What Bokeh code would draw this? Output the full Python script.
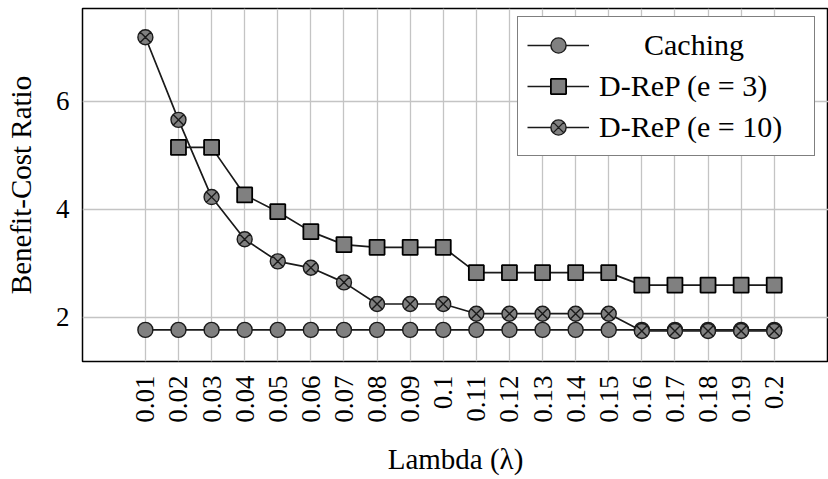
import math
from bokeh.plotting import figure
from bokeh.models import Range1d, FixedTicker, Legend, LegendItem
from bokeh.embed import file_html
from bokeh.resources import INLINE

# ---- data ----
lambda_labels = ["0.01", "0.02", "0.03", "0.04", "0.05", "0.06", "0.07", "0.08", "0.09", "0.1",
                 "0.11", "0.12", "0.13", "0.14", "0.15", "0.16", "0.17", "0.18", "0.19", "0.2"]
caching = [1.77, 1.77, 1.77, 1.77, 1.77, 1.77, 1.77, 1.77, 1.77, 1.77,
           1.77, 1.77, 1.77, 1.77, 1.77, 1.77, 1.77, 1.77, 1.77, 1.77]
drep3_labels = lambda_labels[1:]
drep3 = [5.15, 5.15, 4.27, 3.96, 3.59, 3.35, 3.30, 3.30, 3.30,
         2.83, 2.83, 2.83, 2.83, 2.83, 2.60, 2.60, 2.60, 2.60, 2.60]
drep10 = [7.19, 5.66, 4.23, 3.45, 3.04, 2.92, 2.65, 2.25, 2.25, 2.25,
          2.07, 2.07, 2.07, 2.07, 2.07, 1.75, 1.75, 1.75, 1.75, 1.75]
y_ticks = [2, 4, 6]
series_names = ["Caching", "D-ReP (e = 3)", "D-ReP (e = 10)"]

x_all = [lambda_labels.index(l) for l in lambda_labels]
x_d3 = [lambda_labels.index(l) for l in drep3_labels]

FONT = "Liberation Serif"
FILL = "#808080"
LINE = "#1a1a1a"

p = figure(width=828, height=479, output_backend="svg", toolbar_location=None,
           x_range=Range1d(-1.9, 20.64), y_range=Range1d(1.185, 7.722),
           min_border_left=82, min_border_right=0, min_border_top=8, min_border_bottom=118)

p.outline_line_color = "black"
p.outline_line_width = 1.5
p.background_fill_color = "white"
p.border_fill_color = "white"

# grid
p.xgrid.ticker = FixedTicker(ticks=x_all)
p.ygrid.ticker = FixedTicker(ticks=y_ticks)
for g in (p.xgrid, p.ygrid):
    g.grid_line_color = "#c4c4c4"
    g.grid_line_width = 1.3

# axes
p.xaxis.ticker = FixedTicker(ticks=x_all)
p.xaxis.major_label_overrides = {i: lab for i, lab in zip(x_all, lambda_labels)}
p.xaxis.major_label_orientation = math.pi / 2
p.yaxis.ticker = FixedTicker(ticks=y_ticks)
for ax in (p.xaxis[0], p.yaxis[0]):
    ax.axis_line_color = None
    ax.major_tick_line_color = None
    ax.minor_tick_line_color = None
    ax.major_tick_in = 0
    ax.major_tick_out = 0
    ax.minor_tick_in = 0
    ax.minor_tick_out = 0
    ax.major_label_text_font = FONT
    ax.major_label_text_font_size = "27px"
    ax.major_label_text_color = "black"
    ax.axis_label_text_font = FONT
    ax.axis_label_text_font_size = "29px"
    ax.axis_label_text_font_style = "normal"
    ax.axis_label_text_color = "black"
p.xaxis.major_label_standoff = 14
p.yaxis.major_label_standoff = 13
p.xaxis.axis_label = "Lambda (λ)"
p.yaxis.axis_label = "Benefit-Cost Ratio"
p.xaxis.axis_label_standoff = 17
p.yaxis.axis_label_standoff = 16

# series
l1 = p.line(x_all, caching, line_color=LINE, line_width=1.7)
s1 = p.scatter(x_all, caching, marker="circle", size=15, fill_color=FILL,
               line_color=LINE, line_width=1.4)
l2 = p.line(x_d3, drep3, line_color=LINE, line_width=1.7)
s2 = p.scatter(x_d3, drep3, marker="square", size=15, fill_color=FILL,
               line_color="black", line_width=1.8)
l3 = p.line(x_all, drep10, line_color=LINE, line_width=1.7)
s3 = p.scatter(x_all, drep10, marker="circle_x", size=15, fill_color=FILL,
               line_color=LINE, line_width=1.4)

NB = "\u00a0"
legend = Legend(items=[
    LegendItem(label=NB * 6 + series_names[0], renderers=[l1, s1]),
    LegendItem(label=series_names[1], renderers=[l2, s2]),
    LegendItem(label=series_names[2], renderers=[l3, s3]),
], location=(435, 205))
legend.label_text_font = FONT
legend.label_text_font_size = "30px"
legend.label_text_color = "black"
legend.glyph_width = 62
legend.glyph_height = 38
legend.label_height = 38
legend.label_width = 206
legend.label_standoff = 10
legend.spacing = 3
legend.padding = 9
legend.margin = 0
legend.border_line_color = "black"
legend.border_line_width = 1.5
legend.background_fill_color = "white"
legend.background_fill_alpha = 1.0
p.add_layout(legend, "center")

open("out.html", "w").write(file_html(p, INLINE))
